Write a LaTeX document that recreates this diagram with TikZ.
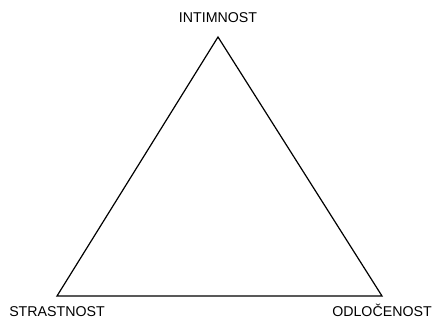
\documentclass[tikz,border=0pt]{standalone}
\usepackage{fontspec}
\setmainfont{Liberation Sans}
\usetikzlibrary{positioning}

\begin{document}
\begin{tikzpicture}[
  x=1pt, y=-1pt,
  side/.style={draw=black, line width=1.2pt, line join=miter},
  lbl/.style={inner sep=0pt, text height=10.2pt, text depth=0pt,
    font=\fontsize{14.2}{16}\selectfont}
]
\useasboundingbox (0,0) rectangle (434,320);
%% ─── Corners ────────────────────────────────────────────────────────────────
\coordinate (int) at (218, 37);
\coordinate (str) at (57, 296);
\coordinate (odl) at (382, 296);
%% ─── Labels ─────────────────────────────────────────────────────────────────
\node[lbl, above=14pt of int]              (lint) {INTIMNOST};
\node[lbl, below=10pt of str]              (lstr) {STRASTNOST};
\node[lbl, below=10pt of odl]              (lodl) {ODLOČENOST};
%% ─── Triangle ───────────────────────────────────────────────────────────────
\draw[side] (int) -- (odl) -- (str) -- cycle;
\end{tikzpicture}
\end{document}
